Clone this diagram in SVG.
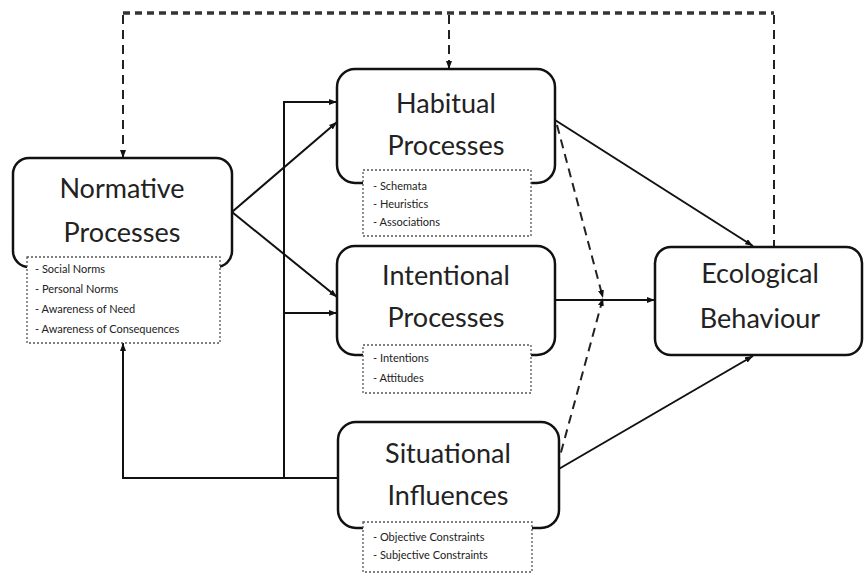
<svg xmlns="http://www.w3.org/2000/svg" width="864" height="576" viewBox="0 0 864 576">
<defs>
<marker id="arr" markerUnits="userSpaceOnUse" markerWidth="8" markerHeight="6" refX="8" refY="3" orient="auto">
<path d="M0,0 L8,3 L0,6 z" fill="#111"/>
</marker>
<style>
.box{fill:#fff;stroke:#111;stroke-width:2.5}
.list{fill:#fff;stroke:#555;stroke-width:1.3;stroke-dasharray:2 2}
.t{font-family:Lato,"Open Sans",sans-serif;font-size:27px;fill:#222;text-anchor:middle}
.s{font-family:Lato,"Open Sans",sans-serif;font-size:11px;fill:#222}
.ln{fill:none;stroke:#111;stroke-width:2}
.dh{fill:none;stroke:#333;stroke-width:3.5;stroke-dasharray:7 5}
.dv{fill:none;stroke:#222;stroke-width:2;stroke-dasharray:9 6}
</style>
</defs>
<g id="connectors">
<path class="dh" d="M123,13 H774"/>
<path class="dv" d="M123,15 V158" marker-end="url(#arr)"/>
<path class="dv" d="M449,15 V69" marker-end="url(#arr)"/>
<path class="dv" d="M774,15 V247"/>
<path class="ln" d="M232,212 L337,122" marker-end="url(#arr)"/>
<path class="ln" d="M232,212 L337,297" marker-end="url(#arr)"/>
<path class="ln" d="M338,478 H123 V343" marker-end="url(#arr)"/>
<path class="ln" d="M284,478 V102 H337" marker-end="url(#arr)"/>
<path class="ln" d="M284,313 H337" marker-end="url(#arr)"/>
<path class="ln" d="M555,120 L753,246" marker-end="url(#arr)"/>
<path class="ln" d="M555,300 H655" marker-end="url(#arr)"/>
<path class="ln" d="M557,470 L753,356" marker-end="url(#arr)"/>
<path class="dv" d="M557,125 L603,298" marker-end="url(#arr)"/>
<path class="dv" d="M557,467 L603,298" marker-end="url(#arr)"/>
</g>
<g id="normative">
<rect class="box" x="13" y="158" width="219" height="109" rx="16"/>
<text class="t" x="122" y="198">Normative</text>
<text class="t" x="122" y="242">Processes</text>
<rect class="list" x="27" y="257" width="193" height="86"/>
<text class="s" x="35" y="273">- Social Norms</text>
<text class="s" x="35" y="293">- Personal Norms</text>
<text class="s" x="35" y="313">- Awareness of Need</text>
<text class="s" x="35" y="333">- Awareness of Consequences</text>
</g>
<g id="habitual">
<rect class="box" x="337" y="69" width="218" height="114" rx="18"/>
<text class="t" x="446" y="113">Habitual</text>
<text class="t" x="446" y="155">Processes</text>
<rect class="list" x="363" y="170" width="168" height="66"/>
<text class="s" x="373" y="190">- Schemata</text>
<text class="s" x="373" y="208">- Heuristics</text>
<text class="s" x="373" y="226">- Associations</text>
</g>
<g id="intentional">
<rect class="box" x="337" y="246" width="218" height="109" rx="18"/>
<text class="t" x="446" y="285">Intentional</text>
<text class="t" x="446" y="327">Processes</text>
<rect class="list" x="363" y="345" width="168" height="48"/>
<text class="s" x="373" y="362">- Intentions</text>
<text class="s" x="373" y="382">- Attitudes</text>
</g>
<g id="situational">
<rect class="box" x="338" y="422" width="221" height="106" rx="18"/>
<text class="t" x="448" y="463">Situational</text>
<text class="t" x="448" y="505">Influences</text>
<rect class="list" x="363" y="522" width="169" height="50"/>
<text class="s" x="373" y="541">- Objective Constraints</text>
<text class="s" x="373" y="559">- Subjective Constraints</text>
</g>
<g id="ecological">
<rect class="box" x="655" y="247" width="207" height="108" rx="16"/>
<text class="t" x="760" y="283">Ecological</text>
<text class="t" x="760" y="328">Behaviour</text>
</g>
</svg>
